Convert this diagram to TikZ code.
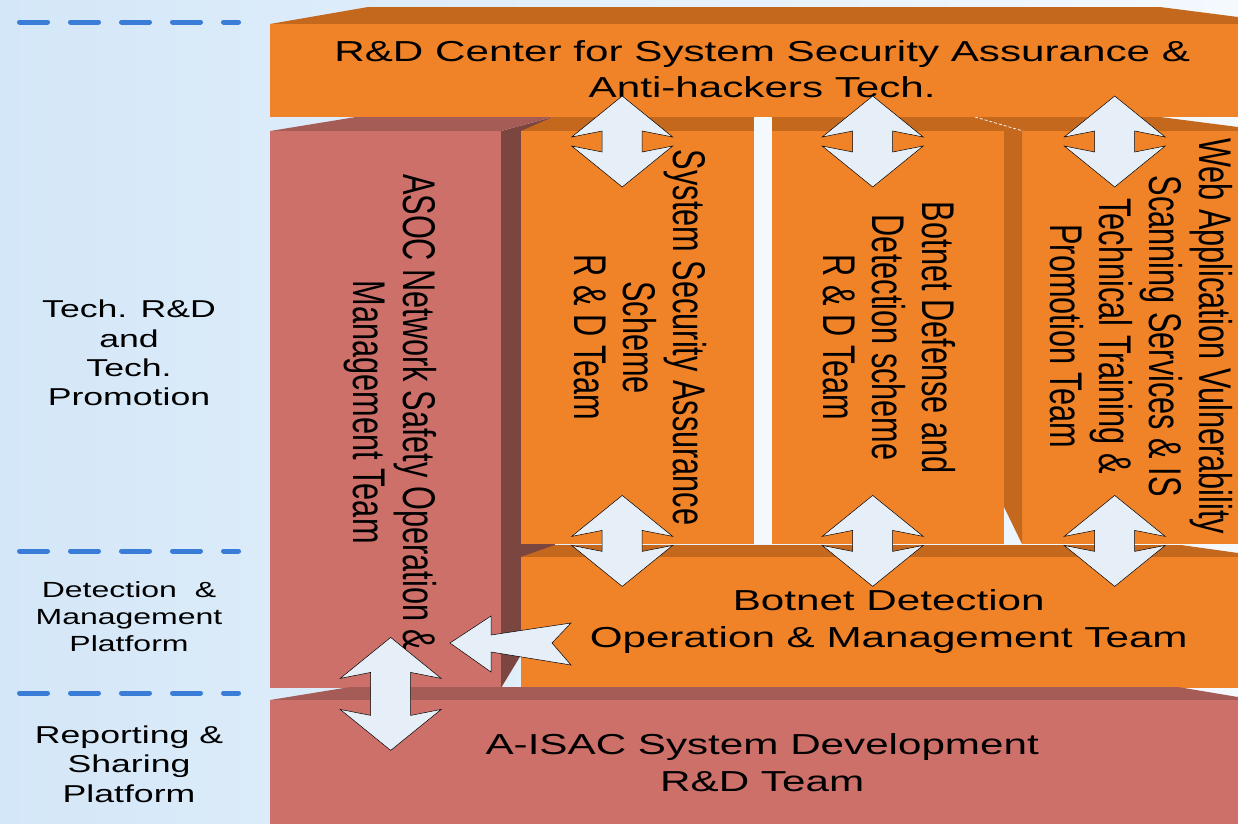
\documentclass[tikz,border=0pt]{standalone}
\usepackage{fontspec}
\setmainfont{Liberation Sans}
\newfontfamily\widefont{Liberation Sans}[FakeStretch=1.46]
\newfontfamily\tallfont{Liberation Sans}[FakeStretch=0.67]
\usetikzlibrary{calc}

\definecolor{orfront}{RGB}{240,130,40}
\definecolor{ortop}{RGB}{196,104,30}
\definecolor{pkfront}{RGB}{205,112,106}
\definecolor{pktop}{RGB}{166,92,86}
\definecolor{pkside}{RGB}{123,69,64}
\definecolor{arrfill}{RGB}{230,238,248}
\definecolor{dashblue}{RGB}{58,125,216}
\definecolor{bgleft}{RGB}{212,231,248}
\definecolor{bgright}{RGB}{244,249,254}

\newcommand{\dblarr}[2]{%
  \begin{scope}[shift={(#1)}]
    \draw[blockarr] (0,-#2) -- (-50.5,-#2+41) -- (-20,-#2+35) -- (-20,#2-35) -- (-50.5,#2-41) -- (0,#2)
      -- (50.5,#2-41) -- (20,#2-35) -- (20,-#2+35) -- (50.5,-#2+41) -- cycle;
  \end{scope}}

\begin{document}
\begin{tikzpicture}[x=1bp,y=-1bp,
  blockarr/.style={fill=arrfill,draw=black,line width=0.5bp,line join=miter},
  lvl/.style={draw=dashblue,line width=5bp,line cap=round,dash pattern=on 28bp off 23bp}]
  \tikzstyle{face}=[draw=none,inner sep=0pt,anchor=north west]
  \tikzstyle{htext}=[inner sep=0pt,align=center,font=\widefont\fontsize{29}{37}\selectfont]
  \tikzstyle{vtext}=[inner sep=0pt,align=center,rotate=-90,font=\tallfont\fontsize{46}{50}\selectfont]
  \tikzstyle{lbl}=[inner sep=0pt,align=center,font=\widefont\fontsize{24.5}{29.5}\selectfont]

  \useasboundingbox (0,0) rectangle (1238,824);
  \shade[left color=bgleft,right color=bgright] (0,0) rectangle (1238,824);

  \fill[pkside] (501,131) -- (553,117) -- (555,557) -- (521,557) -- (521,655) -- (501,688) -- cycle;
  \fill[pktop] (270,131) -- (356,117) -- (553,117) -- (501,131) -- cycle;
  \node[face,fill=pkfront,minimum width=231bp,minimum height=557bp] (asoc) at (270,131) {};

  \fill[ortop] (521,131) -- (553,117) -- (1160,117) -- (1238,127) -- (1238,131) -- cycle;
  \node[face,fill=orfront,minimum width=233bp,minimum height=413bp] (col1) at (521,131) {};
  \node[face,fill=orfront,minimum width=232bp,minimum height=413bp] (col2) at (772,131) {};
  \node[face,fill=orfront,minimum width=216bp,minimum height=413bp] (col3) at (1022,131) {};
  \fill[ortop] (1004,131) -- (1022,131) -- (1022,544) -- (1004,507) -- cycle;
  \fill[bgright] (754,117) rectangle (772,544);
  \draw[white,densely dashed,line width=0.7bp] (975,117) -- (1023,131);

  \fill[ortop] (521,557) -- (555,545) -- (1181,545) -- (1238,553) -- (1238,557) -- cycle;
  \node[face,fill=orfront,minimum width=717bp,minimum height=131bp] (bdo) at (521,557) {};

  \fill[pktop] (270,700) -- (350,687) -- (1178,687) -- (1238,697) -- (1238,700) -- cycle;
  \node[face,fill=pkfront,minimum width=968bp,minimum height=124bp] (isac) at (270,700) {};

  \fill[ortop] (270,24) -- (368,7) -- (1160,7) -- (1238,17) -- (1238,24) -- cycle;
  \node[face,fill=orfront,minimum width=968bp,minimum height=93bp] (rdc) at (270,24) {};

  \node[htext] (rdct) at ($(rdc.center)+(8,-1.5)$) {R\&D Center for System Security Assurance \&\\Anti-hackers Tech.};
  \node[htext] (bdot) at ($(bdo.center)+(9,-1.5)$) {Botnet Detection\\Operation \& Management Team};
  \node[htext] (isact) at ($(isac.center)+(8,0.5)$) {A-ISAC System Development\\R\&D Team};
  \node[vtext] (asoct) at ($(asoc.center)+(4.5,2.5)$) {ASOC Network Safety Operation \&\\Management Team};
  \node[vtext] (col1t) at ($(col1.center)+(2.5,0)$) {System Security Assurance\\Scheme\\R \& D Team};
  \node[vtext] (col2t) at ($(col2.center)+(1,0)$) {Botnet Defense and\\Detection scheme\\R \& D Team};
  \node[vtext] (col3t) at ($(col3.center)+(11,-1.5)$) {Web Application Vulnerability\\Scanning Services \& IS\\Technical Training \&\\Promotion Team};

  \dblarr{$(col1.north)+(-15.5,10.5)$}{45.5}
  \dblarr{$(col2.north)+(-15.5,10.5)$}{45.5}
  \dblarr{$(col3.north)+(-15.5,10.5)$}{45.5}
  \dblarr{$(col1.south)+(-15.5,-3.5)$}{45.5}
  \dblarr{$(col2.south)+(-15.5,-3.5)$}{45.5}
  \dblarr{$(col3.south)+(-15.5,-3.5)$}{45.5}
  \dblarr{$(asoc.south)+(5,5.5)$}{56.5}
  \draw[blockarr] (450,643) -- (491,616) -- (491,635) -- (571,623) -- (552,643) -- (571,665) -- (491,652) -- (491,672) -- cycle;

  \draw[lvl] (19.5,22) -- (238.5,22);
  \draw[lvl] (19.5,551) -- (238.5,551);
  \draw[lvl] (19.5,693) -- (238.5,693);

  \node[lbl] (tech) at (129,353) {Tech. R\&D\\and\\Tech.\\Promotion};
  \node[lbl,font=\widefont\fontsize{22}{27}\selectfont] (detect) at (129,617) {Detection~~\&\\Management\\Platform};
  \node[lbl] (report) at (129,764) {Reporting \&\\Sharing\\Platform};
\end{tikzpicture}
\end{document}
